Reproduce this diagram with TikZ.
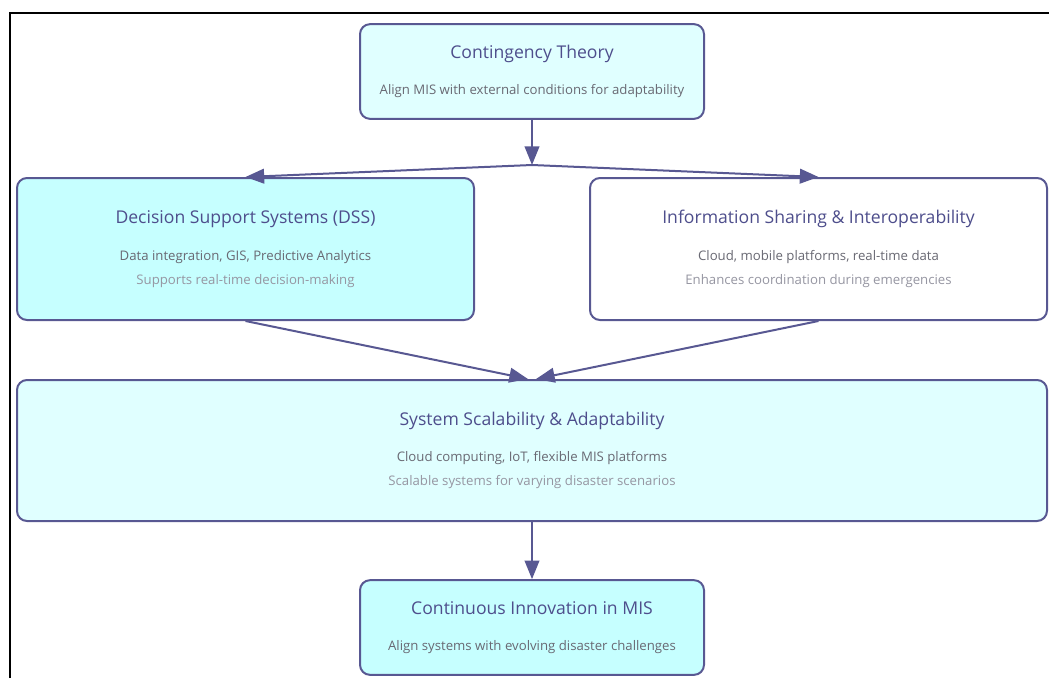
\documentclass[tikz,border=0pt]{standalone}
\usepackage{fontspec}
\setmainfont{Open Sans}
\usetikzlibrary{arrows.meta}
\definecolor{edgecol}{RGB}{88,88,146}
\definecolor{titlecol}{RGB}{78,78,140}
\definecolor{linecol}{RGB}{105,105,115}
\definecolor{notecol}{RGB}{150,150,162}
\definecolor{paleblue}{RGB}{224,255,255}
\definecolor{cyanblue}{RGB}{198,255,255}
\newcommand{\boxtitle}[1]{{\fontsize{13.2}{15}\selectfont\color{titlecol}#1}}
\newcommand{\boxline}[1]{{\color{linecol}#1}}
\newcommand{\boxnote}[1]{{\color{notecol}#1}}
\tikzset{
  mbox/.style={draw=edgecol, line width=1.5pt, rounded corners=7.5pt, align=center,
    inner sep=0pt, font=\fontsize{9.9}{18}\selectfont},
  flow/.style={draw=edgecol, line width=1.5pt, -{Triangle[length=14pt,width=11pt]}},
}
\begin{document}
\begin{tikzpicture}[x=0.75pt,y=0.75pt,yscale=-1,xscale=1]
\useasboundingbox (0,0) rectangle (1049,678);

%Frame
\draw [line width=1.5pt] (10,678) -- (10,13) -- (1049,13);

%Shape: Rounded Rect [Contingency Theory]
\node [mbox, fill=paleblue, minimum width=258pt, minimum height=71pt] (ct) at (532,71.5)
  {\boxtitle{Contingency Theory}\\[8.5pt]\boxline{Align MIS with external conditions for adaptability}};
%Shape: Rounded Rect [DSS]
\node [mbox, fill=cyanblue, minimum width=342.75pt, minimum height=106.5pt] (dss) at (245.5,249)
  {\boxtitle{Decision Support Systems (DSS)}\\[9.25pt]\boxline{Data integration, GIS, Predictive Analytics}\\\boxnote{Supports real-time decision-making}};
%Shape: Rounded Rect [Information Sharing]
\node [mbox, fill=white, minimum width=342.75pt, minimum height=106.5pt] (info) at (818.5,249)
  {\boxtitle{Information Sharing \& Interoperability}\\[9.25pt]\boxline{Cloud, mobile platforms, real-time data}\\\boxnote{Enhances coordination during emergencies}};
%Shape: Rounded Rect [Scalability]
\node [mbox, fill=paleblue, minimum width=772.5pt, minimum height=105.75pt] (scal) at (532,450.5)
  {\boxtitle{System Scalability \& Adaptability}\\[9.25pt]\boxline{Cloud computing, IoT, flexible MIS platforms}\\\boxnote{Scalable systems for varying disaster scenarios}};
%Shape: Rounded Rect [Continuous Innovation]
\node [mbox, fill=cyanblue, minimum width=258pt, minimum height=71pt] (ci) at (532,627.5)
  {\boxtitle{Continuous Innovation in MIS}\\[9.25pt]\boxline{Align systems with evolving disaster challenges}};

\coordinate (split) at (532,165);

%Connectors
\draw [flow] (ct.south) -- (split);
\draw [flow] (split) -- (dss.north);
\draw [flow] (split) -- (info.north);
\draw [flow] (dss.south) -- ([xshift=-3pt]scal.north);
\draw [flow] (info.south) -- ([xshift=3pt]scal.north);
\draw [flow] (scal.south) -- (ci.north);

\end{tikzpicture}
\end{document}
